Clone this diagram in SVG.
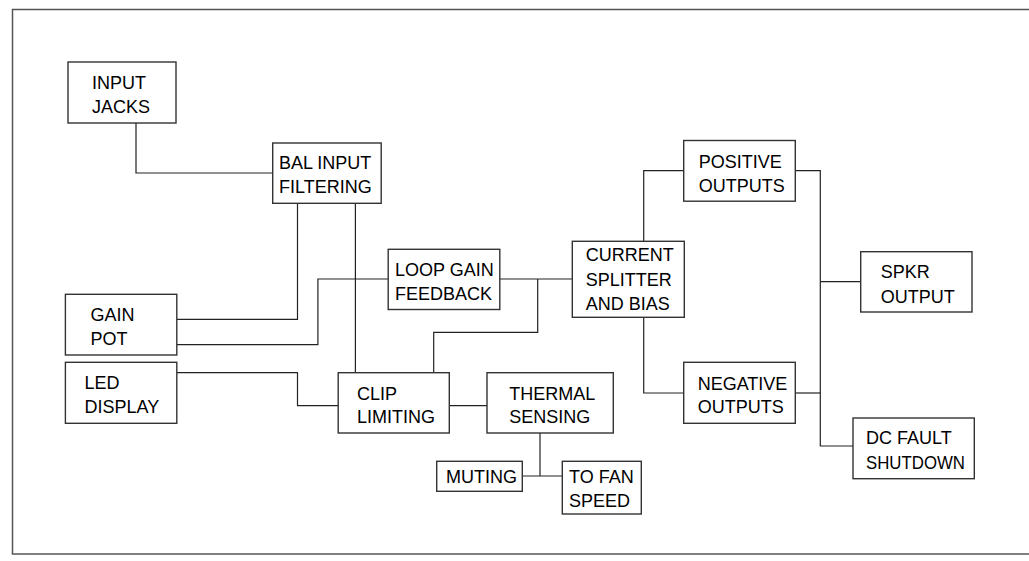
<svg xmlns="http://www.w3.org/2000/svg" width="1029" height="561" viewBox="0 0 1029 561">
<style>
.box{fill:#fff;stroke:#333;stroke-width:1.4}
.ln{fill:none;stroke:#222;stroke-width:1.2}
.frame{fill:none;stroke:#555;stroke-width:1.5}
text{font-family:"Liberation Sans",Arial,sans-serif;font-size:18px;fill:#000}
</style>
<rect width="1029" height="561" fill="#fff"/>
<path class="frame" d="M1029,9.5 H12.5 V554 H1029"/>
<g id="connectors">
<path class="ln" d="M136,123 V173 H272.7"/>
<path class="ln" d="M297.5,203.3 V319.3 H176.8"/>
<path class="ln" d="M355.4,203.3 V372.7"/>
<path class="ln" d="M388.2,279 H317.9 V344.7 H176.8"/>
<path class="ln" d="M176.8,372.7 H297.5 V405.7 H338.2"/>
<path class="ln" d="M449.3,405.7 H487"/>
<path class="ln" d="M500,279 H572.3"/>
<path class="ln" d="M537.7,279 V332.3 H433.7 V372.7"/>
<path class="ln" d="M643.7,241.3 V170.7 H683.7"/>
<path class="ln" d="M643.7,317.3 V393 H683.7"/>
<path class="ln" d="M795.3,170.7 H820.3 V446 H853"/>
<path class="ln" d="M795.3,393 H820.3"/>
<path class="ln" d="M820.3,281.7 H860.7"/>
<path class="ln" d="M540,433 V476"/>
<path class="ln" d="M522.3,476 H562.3"/>
</g>
<g id="input-jacks">
<rect class="box" x="68" y="62" width="108" height="61"/>
<text x="92" y="89">INPUT</text>
<text x="92" y="113">JACKS</text>
</g>
<g id="bal-input-filtering">
<rect class="box" x="272.7" y="143" width="108.5" height="60.3"/>
<text x="279" y="169">BAL INPUT</text>
<text x="279" y="193">FILTERING</text>
</g>
<g id="loop-gain-feedback">
<rect class="box" x="388.2" y="249.3" width="111.6" height="60.2"/>
<text x="395" y="276">LOOP GAIN</text>
<text x="395" y="299.5">FEEDBACK</text>
</g>
<g id="gain-pot">
<rect class="box" x="65.4" y="294.3" width="111.4" height="60.7"/>
<text x="90.4" y="321">GAIN</text>
<text x="90.4" y="345">POT</text>
</g>
<g id="led-display">
<rect class="box" x="65.4" y="362.3" width="111.4" height="61"/>
<text x="84.6" y="389.3">LED</text>
<text x="84.6" y="413.3">DISPLAY</text>
</g>
<g id="clip-limiting">
<rect class="box" x="338.2" y="372.7" width="111.1" height="60.3"/>
<text x="357" y="400">CLIP</text>
<text x="357" y="423.3">LIMITING</text>
</g>
<g id="thermal-sensing">
<rect class="box" x="487" y="372.7" width="126.3" height="60.3"/>
<text x="509.3" y="400">THERMAL</text>
<text x="509.3" y="422.5">SENSING</text>
</g>
<g id="muting">
<rect class="box" x="436.7" y="461.3" width="85.6" height="30"/>
<text x="446" y="483.3">MUTING</text>
</g>
<g id="to-fan-speed">
<rect class="box" x="562.3" y="461.3" width="79" height="52.7"/>
<text x="569" y="482.7">TO FAN</text>
<text x="569" y="506.7">SPEED</text>
</g>
<g id="current-splitter">
<rect class="box" x="572.3" y="241.3" width="112" height="76"/>
<text x="585.7" y="260.7">CURRENT</text>
<text x="585.7" y="285.7">SPLITTER</text>
<text x="585.7" y="309.7">AND BIAS</text>
</g>
<g id="positive-outputs">
<rect class="box" x="683.7" y="140.5" width="111.6" height="60.7"/>
<text x="698.7" y="167.7">POSITIVE</text>
<text x="698.7" y="191.7">OUTPUTS</text>
</g>
<g id="negative-outputs">
<rect class="box" x="683.7" y="362.3" width="111.6" height="61"/>
<text x="697.7" y="390">NEGATIVE</text>
<text x="697.7" y="413.3">OUTPUTS</text>
</g>
<g id="spkr-output">
<rect class="box" x="860.7" y="251.7" width="111.3" height="60.3"/>
<text x="880.7" y="278.3">SPKR</text>
<text x="880.7" y="302.7">OUTPUT</text>
</g>
<g id="dc-fault-shutdown">
<rect class="box" x="853" y="418" width="121.3" height="60.7"/>
<text x="866" y="444.3">DC FAULT</text>
<text x="866" y="469.3" textLength="99" lengthAdjust="spacingAndGlyphs">SHUTDOWN</text>
</g>
</svg>
